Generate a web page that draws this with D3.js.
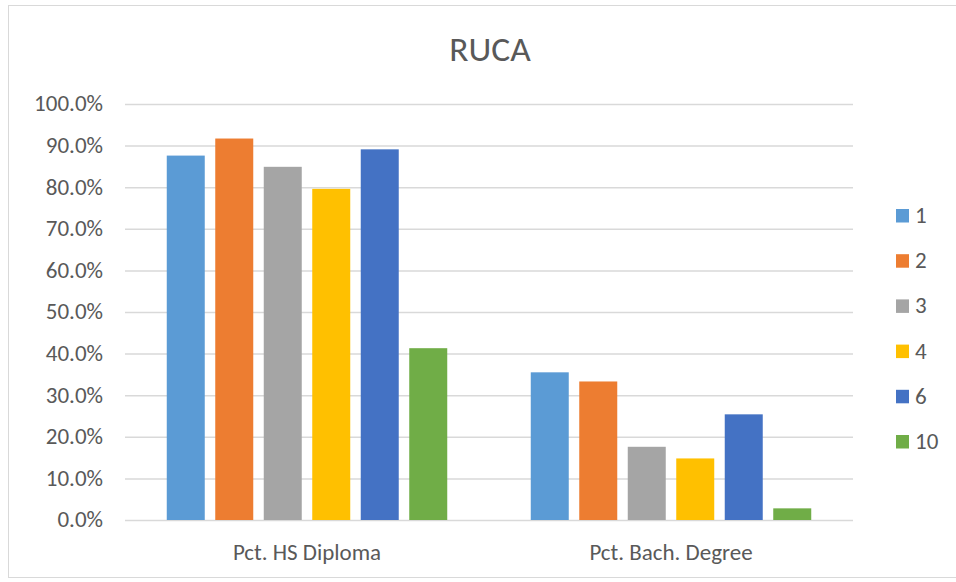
<!DOCTYPE html>
<html>
<head>
<meta charset="utf-8">
<script src="https://cdn.jsdelivr.net/npm/d3@7"></script>
<style>
  html, body { margin: 0; padding: 0; background: #fff; }
  svg { display: block; font-family: Carlito, "Open Sans", "Liberation Sans", sans-serif; }
</style>
</head>
<body>
<svg id="chart" width="956" height="582"></svg>
<script>
// Education attainment by RUCA code
const categories = ["Pct. HS Diploma", "Pct. Bach. Degree"];
const seriesNames = ["1", "2", "3", "4", "6", "10"];
const seriesColors = ["#5B9BD5", "#ED7D31", "#A5A5A5", "#FFC000", "#4472C4", "#70AD47"];
// values per series, in category order
const seriesValues = [
  [0.876, 0.355],
  [0.917, 0.333],
  [0.849, 0.176],
  [0.796, 0.148],
  [0.891, 0.254],
  [0.413, 0.028]
];
const yTicks = [0, 0.1, 0.2, 0.3, 0.4, 0.5, 0.6, 0.7, 0.8, 0.9, 1.0];

const svg = d3.select("#chart");
const W = 956, H = 582;
const plot = { left: 125, right: 853, top: 104, bottom: 520 };
const labelFont = "Carlito, 'Open Sans', sans-serif";

// chart frame
svg.append("rect")
  .attr("x", 8.5).attr("y", 5.5)
  .attr("width", W + 10).attr("height", 572)
  .attr("fill", "#fff").attr("stroke", "#d9d9d9").attr("stroke-width", 1);

// title
svg.append("text")
  .attr("x", 490).attr("y", 61)
  .attr("text-anchor", "middle")
  .attr("font-size", 35.5).attr("fill", "#595959")
  .text("RUCA");

const y = d3.scaleLinear().domain([0, 1]).range([plot.bottom, plot.top]);
const x0 = d3.scaleBand().domain(categories).range([plot.left, plot.right]).padding(0);
const x1 = d3.scaleBand().domain(seriesNames).range([0, x0.bandwidth()])
  .paddingInner(0.2165).paddingOuter(0.861);

// gridlines and value labels
const yAxis = d3.axisLeft(y).tickValues(yTicks)
  .tickSize(-(plot.right - plot.left)).tickPadding(22)
  .tickFormat(d3.format(".1%"));
const gy = svg.append("g").attr("transform", `translate(${plot.left},0)`).call(yAxis);
gy.select(".domain").remove();
gy.selectAll(".tick line").attr("stroke", "#d9d9d9").attr("stroke-width", 1.5);
gy.selectAll(".tick text").attr("fill", "#595959").attr("font-size", 23)
  .attr("font-family", labelFont).attr("dy", "0.3em");

// bars
const groups = svg.append("g").selectAll("g")
  .data(seriesNames)
  .join("g")
  .attr("fill", (d, i) => seriesColors[i]);

groups.selectAll("rect")
  .data((s, i) => categories.map((c, j) => ({ c, s, v: seriesValues[i][j] })))
  .join("rect")
  .attr("x", d => x0(d.c) + x1(d.s))
  .attr("width", x1.bandwidth())
  .attr("y", d => y(d.v))
  .attr("height", d => y(0) - y(d.v));

// category axis
const xAxis = d3.axisBottom(x0).tickSize(0).tickPadding(0);
const gx = svg.append("g").attr("transform", `translate(0,${plot.bottom})`).call(xAxis);
gx.select(".domain").remove();
gx.selectAll(".tick text").attr("fill", "#595959").attr("font-size", 23)
  .attr("font-family", labelFont).attr("dy", null).attr("y", 40);

// legend
const legend = svg.append("g").attr("transform", "translate(896,209)");
const item = legend.selectAll("g").data(seriesNames).join("g")
  .attr("transform", (d, i) => `translate(0,${i * 45.2})`);
item.append("rect").attr("width", 13).attr("height", 13.5)
  .attr("fill", (d, i) => seriesColors[i]);
item.append("text").attr("x", 19).attr("y", 14)
  .attr("font-size", 23).attr("fill", "#595959").text(d => d);
</script>
</body>
</html>
